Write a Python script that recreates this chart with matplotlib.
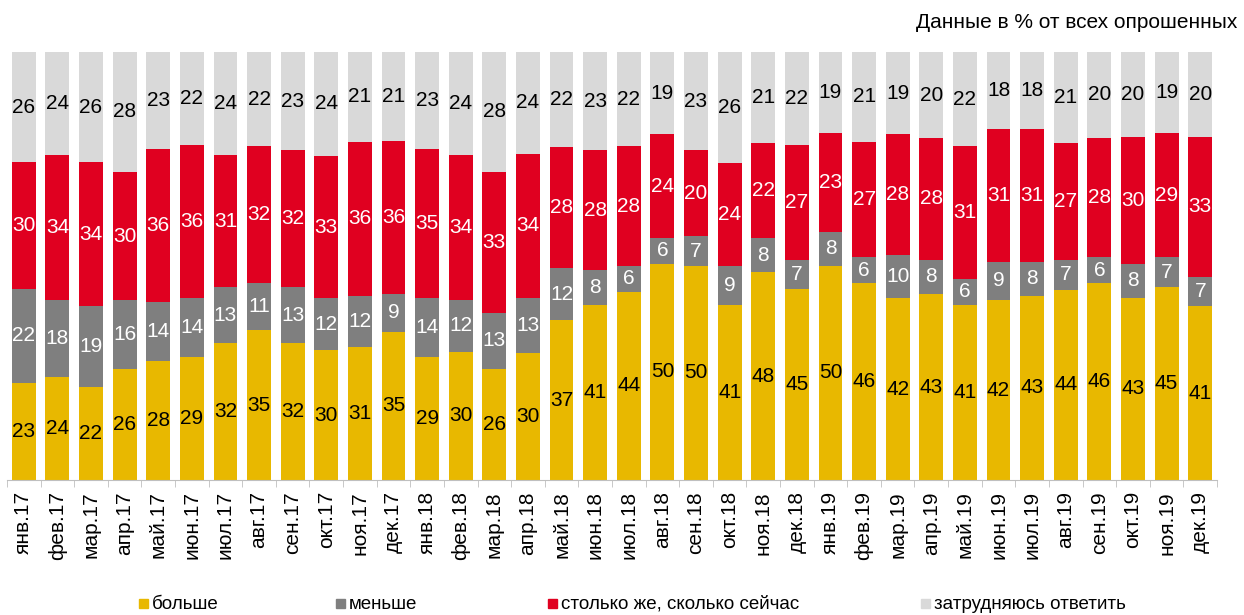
import numpy as np
import matplotlib.pyplot as plt
from matplotlib.patches import Rectangle

plt.rcParams['font.family'] = ['Liberation Sans', 'DejaVu Sans']

# Данные
months = ['янв.17', 'фев.17', 'мар.17', 'апр.17', 'май.17', 'июн.17', 'июл.17', 'авг.17', 'сен.17', 'окт.17', 'ноя.17', 'дек.17',
          'янв.18', 'фев.18', 'мар.18', 'апр.18', 'май.18', 'июн.18', 'июл.18', 'авг.18', 'сен.18', 'окт.18', 'ноя.18', 'дек.18',
          'янв.19', 'фев.19', 'мар.19', 'апр.19', 'май.19', 'июн.19', 'июл.19', 'авг.19', 'сен.19', 'окт.19', 'ноя.19', 'дек.19']
bolshe = [23, 24, 22, 26, 28, 29, 32, 35, 32, 30, 31, 35,
          29, 30, 26, 30, 37, 41, 44, 50, 50, 41, 48, 45,
          50, 46, 42, 43, 41, 42, 43, 44, 46, 43, 45, 41]
menshe = [22, 18, 19, 16, 14, 14, 13, 11, 13, 12, 12, 9,
          14, 12, 13, 13, 12, 8, 6, 6, 7, 9, 8, 7,
          8, 6, 10, 8, 6, 9, 8, 7, 6, 8, 7, 7]
stolko = [30, 34, 34, 30, 36, 36, 31, 32, 32, 33, 36, 36,
          35, 34, 33, 34, 28, 28, 28, 24, 20, 24, 22, 27,
          23, 27, 28, 28, 31, 31, 31, 27, 28, 30, 29, 33]
zatr = [26, 24, 26, 28, 23, 22, 24, 22, 23, 24, 21, 21,
        23, 24, 28, 24, 22, 23, 22, 19, 23, 26, 21, 22,
        19, 21, 19, 20, 22, 18, 18, 21, 20, 20, 19, 20]

series = [bolshe, menshe, stolko, zatr]
names = ['больше', 'меньше', 'столько же, сколько сейчас', 'затрудняюсь ответить']
colors = ['#E8B800', '#7F7F7F', '#E00020', '#D9D9D9']
text_colors = ['black', 'white', 'white', 'black']

vals = np.array(series, dtype=float)
shares = vals / vals.sum(axis=0) * 100  # все столбцы до 100%

fig = plt.figure(figsize=(12.44, 6.15), dpi=100)
ax = fig.add_axes([0.0056, 0.2195, 0.9727, 0.696])

x = np.arange(len(months))
bottom = np.zeros(len(months))
for s, sh, c, tc in zip(series, shares, colors, text_colors):
    ax.bar(x, sh, bottom=bottom, width=0.71, color=c, edgecolor='none')
    for xi, b, h, v in zip(x, bottom, sh, s):
        ax.text(xi, b + h / 2, str(v), ha='center', va='center', fontsize=15, color=tc)
    bottom += sh

ax.set_xlim(-0.5, len(months) - 0.5)
ax.set_ylim(0, 100)
ax.set_xticks(x)
ax.set_xticklabels(months, rotation=90, fontsize=15)
ax.set_xticks(np.arange(-0.5, len(months)), minor=True)
ax.tick_params(axis='x', which='major', length=0, pad=8)
ax.tick_params(axis='x', which='minor', length=5, color='#BFBFBF')
ax.set_yticks([])
for sp in ['top', 'right', 'left']:
    ax.spines[sp].set_visible(False)
ax.spines['bottom'].set_color('#BFBFBF')

fig.text(0.995, 0.964, 'Данные в % от всех опрошенных', ha='right', va='center', fontsize=15)

# Легенда
leg_x = [0.1117, 0.270, 0.4405, 0.740]
for lx, c, n in zip(leg_x, colors, names):
    fig.add_artist(Rectangle((lx, 0.0114), 0.0072, 0.0146, color=c, transform=fig.transFigure))
    fig.text(lx + 0.0105, 0.0175, n, ha='left', va='center', fontsize=13.5)

plt.savefig('out.png', dpi=100)
